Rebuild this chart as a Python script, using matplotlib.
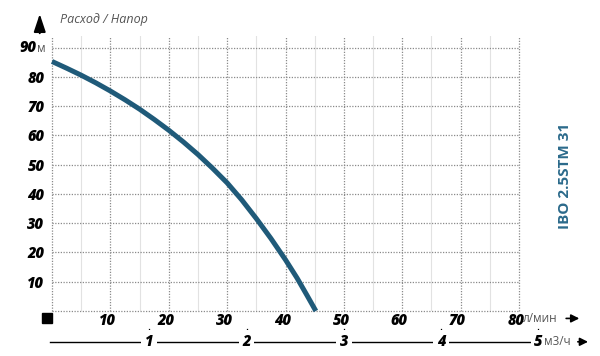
import matplotlib
matplotlib.use('Agg')
import matplotlib.pyplot as plt
import matplotlib.transforms as mtransforms
from matplotlib import font_manager

# расход (л/мин) и напор (м)
flow = [0, 2.5, 5, 7.5, 10, 12.5, 15, 17.5, 20, 22.5, 25, 27.5, 30, 32.5, 35, 37.5, 40, 42, 43.7, 45.2]
head = [85.3, 83.0, 80.6, 78.0, 75.2, 72.2, 69.0, 65.5, 61.8, 57.8, 53.5, 48.8, 43.8, 38.0, 31.6, 24.8, 17.5, 11.2, 5.3, 0]
x_ticks = [10, 20, 30, 40, 50, 60, 70, 80]
y_ticks = [10, 20, 30, 40, 50, 60, 70, 80, 90]
m3h_ticks = [1, 2, 3, 4, 5]
title = 'IBO 2.5STM 31'

# ищем шрифт с жирным курсивом
num_family = 'DejaVu Sans'
for fam in ['Open Sans', 'Noto Sans', 'Lato', 'Roboto']:
    fp = font_manager.FontProperties(family=fam, style='italic', weight='bold')
    path = font_manager.findfont(fp, fallback_to_default=False)
    if fam.replace(' ', '').lower() in path.replace(' ', '').lower() and 'italic' in path.lower():
        num_family = fam
        break

plt.rcParams['font.family'] = ['Open Sans', 'DejaVu Sans']
blue = '#1f5a79'
grey = '#555555'
numfont = dict(family=num_family, fontsize=10.5, fontweight='heavy', fontstyle='italic')

fig = plt.figure(figsize=(6, 3.56), dpi=100)
ax = fig.add_axes([52/600, 1-311/356, 467/600, 275/356])
ax.set_xlim(0, 80)
ax.set_ylim(0, 94)
for s in ax.spines.values():
    s.set_visible(False)

# сетка
for v in range(0, 81, 10):
    ax.axvline(v, color='#8a8a8a', lw=0.9, ls=(0, (1, 1.2)), clip_on=False, zorder=1)
for v in range(5, 80, 10):
    ax.axvline(v, color='#e2e2e2', lw=0.8, zorder=0)
for v in range(0, 91, 10):
    ax.plot([0, 80], [v, v], color='#8a8a8a', lw=0.9, ls=(0, (1, 1.2)), clip_on=False, zorder=1)

ax.plot(flow, head, color=blue, lw=3.6, solid_capstyle='butt', solid_joinstyle='round',
        clip_on=False, zorder=3)

ax.set_xticks(x_ticks)
ax.set_yticks(y_ticks)
ax.set_xticklabels([str(v) for v in x_ticks])
ax.set_yticklabels([str(v) if v != 90 else '' for v in y_ticks])
ax.tick_params(length=0)
ax.tick_params(axis='y', pad=5.5)
ax.tick_params(axis='x', pad=1.5)
shift = mtransforms.ScaledTranslation(-3/100, 0, fig.dpi_scale_trans)
for lab in ax.get_xticklabels():
    lab.set_transform(lab.get_transform() + shift)
for lab in ax.get_xticklabels() + ax.get_yticklabels():
    lab.set_family(num_family)
    lab.set_fontsize(10.5)
    lab.set_fontweight('heavy')
    lab.set_fontstyle('italic')
    lab.set_color('black')

yax = ax.get_yaxis_transform()
xax = ax.get_xaxis_transform()

# 90 м
ax.annotate('90', xy=(0, 90), xycoords=yax, xytext=(-11, 0), textcoords='offset points',
            ha='right', va='center', **numfont)
ax.annotate('м', xy=(0, 90), xycoords=yax, xytext=(-10.5, -0.5), textcoords='offset points',
            ha='left', va='center', fontsize=8.5, color=grey)

# подпись оси Y и стрелка
ax.annotate('', xy=(-2.1, 1.08), xycoords=('data', 'axes fraction'), xytext=(-2.1, 1.01),
            arrowprops=dict(arrowstyle='-|>,head_length=0.9,head_width=0.3', color='black',
                            lw=1.4, mutation_scale=12, shrinkA=0, shrinkB=0),
            annotation_clip=False)
fig.text(60/600, 1-20/356, 'Расход / Напор', fontsize=9, fontstyle='italic', color=grey,
         ha='left', va='center')

# квадрат в начале
ax.plot([-0.9], [-0.025], transform=xax, marker='s', ms=7.5, color='black', clip_on=False)

# л/мин
ax.text(80.6, -0.027, 'л/мин', transform=xax, ha='left', va='center', fontsize=8.5, color=grey)
ax.annotate('', xy=(90.8, -0.027), xycoords=xax, xytext=(87.6, -0.027),
            arrowprops=dict(arrowstyle='-|>', color='black', lw=1.2, mutation_scale=12),
            annotation_clip=False)

# шкала м3/ч
row = -0.112
last = m3h_ticks[-1] * 1000 / 60
ax.plot([-0.4, last], [row, row], transform=xax, color='black', lw=1, clip_on=False)
for m in m3h_ticks:
    xv = m * 1000 / 60
    ax.plot([xv, xv], [row + 0.03, row + 0.045], transform=xax, color='black', lw=0.9, clip_on=False)
    ax.text(xv, row, str(m), transform=xax, ha='center', va='center',
            bbox=dict(boxstyle='square,pad=0.25', fc='white', ec='none'), **numfont)
ax.annotate('м3/ч', xy=(last, row), xycoords=xax, xytext=(4, 0), textcoords='offset points',
            ha='left', va='center', fontsize=8.5, color=grey)
ax.annotate('', xy=(92.3, row), xycoords=xax, xytext=(89.6, row),
            arrowprops=dict(arrowstyle='-|>', color='black', lw=1.2, mutation_scale=12),
            annotation_clip=False)

# название модели
fig.text(565/600, 1-176/356, title, rotation=90, ha='center', va='center',
         fontsize=11, fontweight='bold', color='#2b6a8b')

fig.savefig('out.png', dpi=100)
